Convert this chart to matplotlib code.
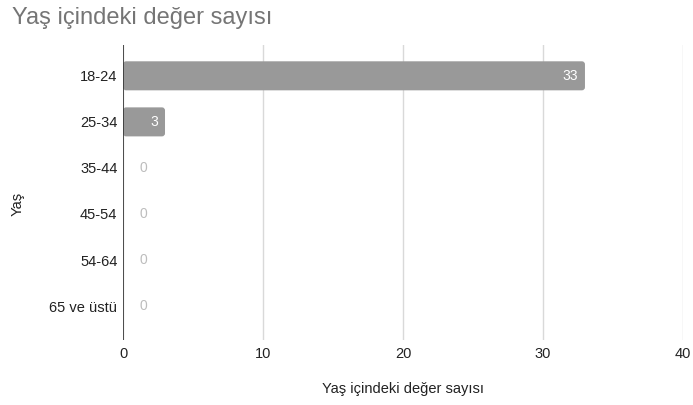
import matplotlib
matplotlib.use("Agg")
import matplotlib.pyplot as plt
from matplotlib.patches import FancyBboxPatch

plt.rcParams['font.family'] = ['Liberation Sans', 'DejaVu Sans']

categories = ["18-24", "25-34", "35-44", "45-54", "54-64", "65 ve üstü"]
counts = [33, 3, 0, 0, 0, 0]
x_ticks = [0, 10, 20, 30, 40]

fig = plt.figure(figsize=(6.93, 4.05), dpi=100)
ax = fig.add_axes([0.1775, 0.160, 0.808, 0.729])

pos = list(range(len(categories)))
bars = ax.barh(pos, counts, height=0.63, color="#999999", zorder=3)

# swap plain rectangles for slightly rounded ones
for r in bars.patches:
    w, h = r.get_width(), r.get_height()
    if w <= 0:
        r.set_visible(False)
        continue
    fb = FancyBboxPatch((r.get_x(), r.get_y()), w, h,
                        boxstyle="round,pad=0,rounding_size=0.22",
                        mutation_aspect=0.30, facecolor="#999999",
                        edgecolor="none", zorder=3)
    r.set_visible(False)
    ax.add_patch(fb)

for p, v in zip(pos, counts):
    if v > 0:
        ax.text(v - 0.5, p, str(v), ha="right", va="center", color="white", fontsize=10, zorder=4)
    else:
        ax.text(1.2, p, str(v), ha="left", va="center", color="#bdbdbd", fontsize=10, zorder=4)

ax.set_xlim(0, 40)
ax.set_ylim(5.74, -0.67)
ax.set_xticks(x_ticks)
ax.set_xticklabels([str(t) for t in x_ticks], fontsize=10.5, color="#222222")
ax.set_yticks(pos)
ax.set_yticklabels(categories, fontsize=10.5, color="#222222")
ax.tick_params(length=0)
ax.tick_params(axis="y", pad=4)
ax.tick_params(axis="x", pad=5)

ax.grid(axis="x", color="#d9d9d9", linewidth=1, zorder=0)
ax.axvline(0, color="#333333", linewidth=1.2, zorder=5)
for s in ax.spines.values():
    s.set_visible(False)

ax.set_xlabel("Yaş içindeki değer sayısı", fontsize=10.5, color="#222222", labelpad=15)
fig.text(0.026, 0.497, "Yaş", rotation=90, fontsize=10.5, color="#222222", ha="center", va="center")
fig.text(0.017, 0.941, "Yaş içindeki değer sayısı", fontsize=17, color="#757575",
         ha="left", va="baseline")

fig.savefig("out.png", dpi=100)
